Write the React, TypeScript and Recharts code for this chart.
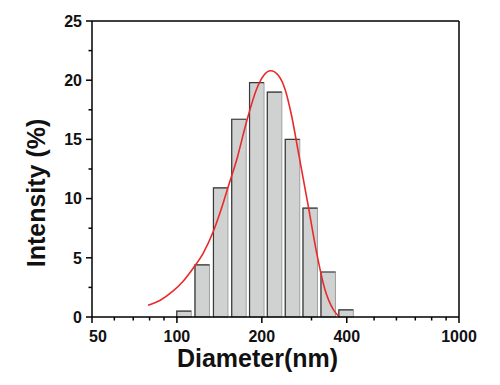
import React from "react";
import {
  ComposedChart,
  Bar,
  Line,
  XAxis,
  YAxis,
  ReferenceLine,
  Label,
} from "recharts";

// histogram bins (nm) and intensity (%)
const diameters = [106, 123, 143, 166, 192, 222, 257, 297, 344, 398];
const intensities = [0.5, 4.4, 10.9, 16.7, 19.8, 19.0, 15.0, 9.2, 3.8, 0.6];

// fitted curve
const fitDiameters = [
  79, 87, 97, 105, 114, 124, 135, 144, 152, 163, 177, 192, 203, 215, 229, 242,
  255, 271, 292, 313, 335, 359, 377,
];
const fitValues = [
  1.0, 1.4, 2.2, 3.0, 4.1, 5.4, 7.3, 9.2, 11.0, 13.3, 16.6, 19.3, 20.4, 20.8,
  20.4, 19.2, 17.0, 13.6, 9.4, 5.4, 2.3, 0.6, 0,
];

const xTicks = [50, 60, 70, 80, 90, 100, 200, 300, 400, 500, 600, 700, 800, 900, 1000];
const xLabels = [50, 100, 200, 400, 1000];
const yTicks = [0, 2.5, 5, 7.5, 10, 12.5, 15, 17.5, 20, 22.5, 25];
const yLabels = [0, 5, 10, 15, 20, 25];

const barData = diameters.map((d, i) => ({ d, intensity: intensities[i] }));
const fitData = fitDiameters.map((d, i) => ({ d, fit: fitValues[i] }));

const font = "'Liberation Sans', Arial, sans-serif";

function HistBar(props: any) {
  const { x, y, width, height } = props;
  if (height == null || isNaN(height)) return null;
  const w = 14.5;
  const left = x + width / 2 - w / 2;
  const bottom = y + height;
  return (
    <g>
      <rect x={left} y={y} width={w} height={height} fill="#d0d2d2" stroke="#a0a0a0" strokeWidth={1} />
      <path d={`M${left},${bottom} V${y} H${left + w}`} fill="none" stroke="#3a3a3a" strokeWidth={1.2} />
    </g>
  );
}

function XTick({ x, y, payload }: any) {
  const v = payload.value;
  const major = xLabels.includes(v);
  return (
    <g>
      <line x1={x} x2={x} y1={y} y2={y + (major ? 6 : 3.5)} stroke="#000" strokeWidth={1.5} />
      {major && (
        <text
          x={x + (v === 50 ? 6 : 0)}
          y={y + 24.5}
          textAnchor="middle"
          fontSize={16}
          fontWeight="bold"
          fontFamily={font}
          fill="#111"
        >
          {v}
        </text>
      )}
    </g>
  );
}

function YTick({ x, y, payload }: any) {
  const v = payload.value;
  const major = yLabels.includes(v);
  return (
    <g>
      <line x1={x - (major ? 6 : 3.5)} x2={x} y1={y} y2={y} stroke="#000" strokeWidth={1.5} />
      {major && (
        <text x={x - 10} y={y + 5.7} textAnchor="end" fontSize={16} fontWeight="bold" fontFamily={font} fill="#111">
          {v}
        </text>
      )}
    </g>
  );
}

export default function App() {
  return (
    <div style={{ position: "absolute", left: 0, top: 0, background: "#fff" }}>
      <ComposedChart
        width={500}
        height={385}
        data={barData}
        margin={{ top: 21, right: 41, bottom: 0, left: 32 }}
      >
        <XAxis
          dataKey="d"
          type="number"
          scale="log"
          domain={[50, 1000]}
          allowDataOverflow
          ticks={xTicks}
          interval={0}
          height={68}
          tickSize={0}
          tickMargin={0}
          tickLine={false}
          tick={<XTick />}
          axisLine={{ stroke: "#000", strokeWidth: 1.5 }}
        >
          <Label
            content={({ viewBox }: any) => (
              <text
                x={viewBox.x + viewBox.width / 2 - 18}
                y={viewBox.y + 50}
                textAnchor="middle"
                fontSize={25}
                fontWeight="bold"
                fontFamily={font}
                fill="#111"
              >
                Diameter(nm)
              </text>
            )}
          />
        </XAxis>
        <YAxis
          type="number"
          domain={[0, 25]}
          ticks={yTicks}
          interval={0}
          width={60}
          tickSize={0}
          tickMargin={0}
          tickLine={false}
          tick={<YTick />}
          axisLine={{ stroke: "#000", strokeWidth: 1.5 }}
        >
          <Label
            content={({ viewBox }: any) => {
              const tx = viewBox.x + 13;
              const ty = viewBox.y + viewBox.height / 2 + 24;
              return (
                <text
                  x={tx}
                  y={ty}
                  transform={`rotate(-90, ${tx}, ${ty})`}
                  textAnchor="middle"
                  fontSize={25}
                  fontWeight="bold"
                  fontFamily={font}
                  fill="#111"
                >
                  Intensity (%)
                </text>
              );
            }}
          />
        </YAxis>
        <ReferenceLine y={25} stroke="#000" strokeWidth={1.5} />
        <ReferenceLine x={1000} stroke="#000" strokeWidth={1.5} />
        <Bar dataKey="intensity" barSize={14} shape={<HistBar />} isAnimationActive={false} />
        <Line
          data={fitData}
          dataKey="fit"
          type="monotone"
          stroke="#ea2a2a"
          strokeWidth={1.6}
          dot={false}
          activeDot={false}
          isAnimationActive={false}
        />
      </ComposedChart>
    </div>
  );
}
